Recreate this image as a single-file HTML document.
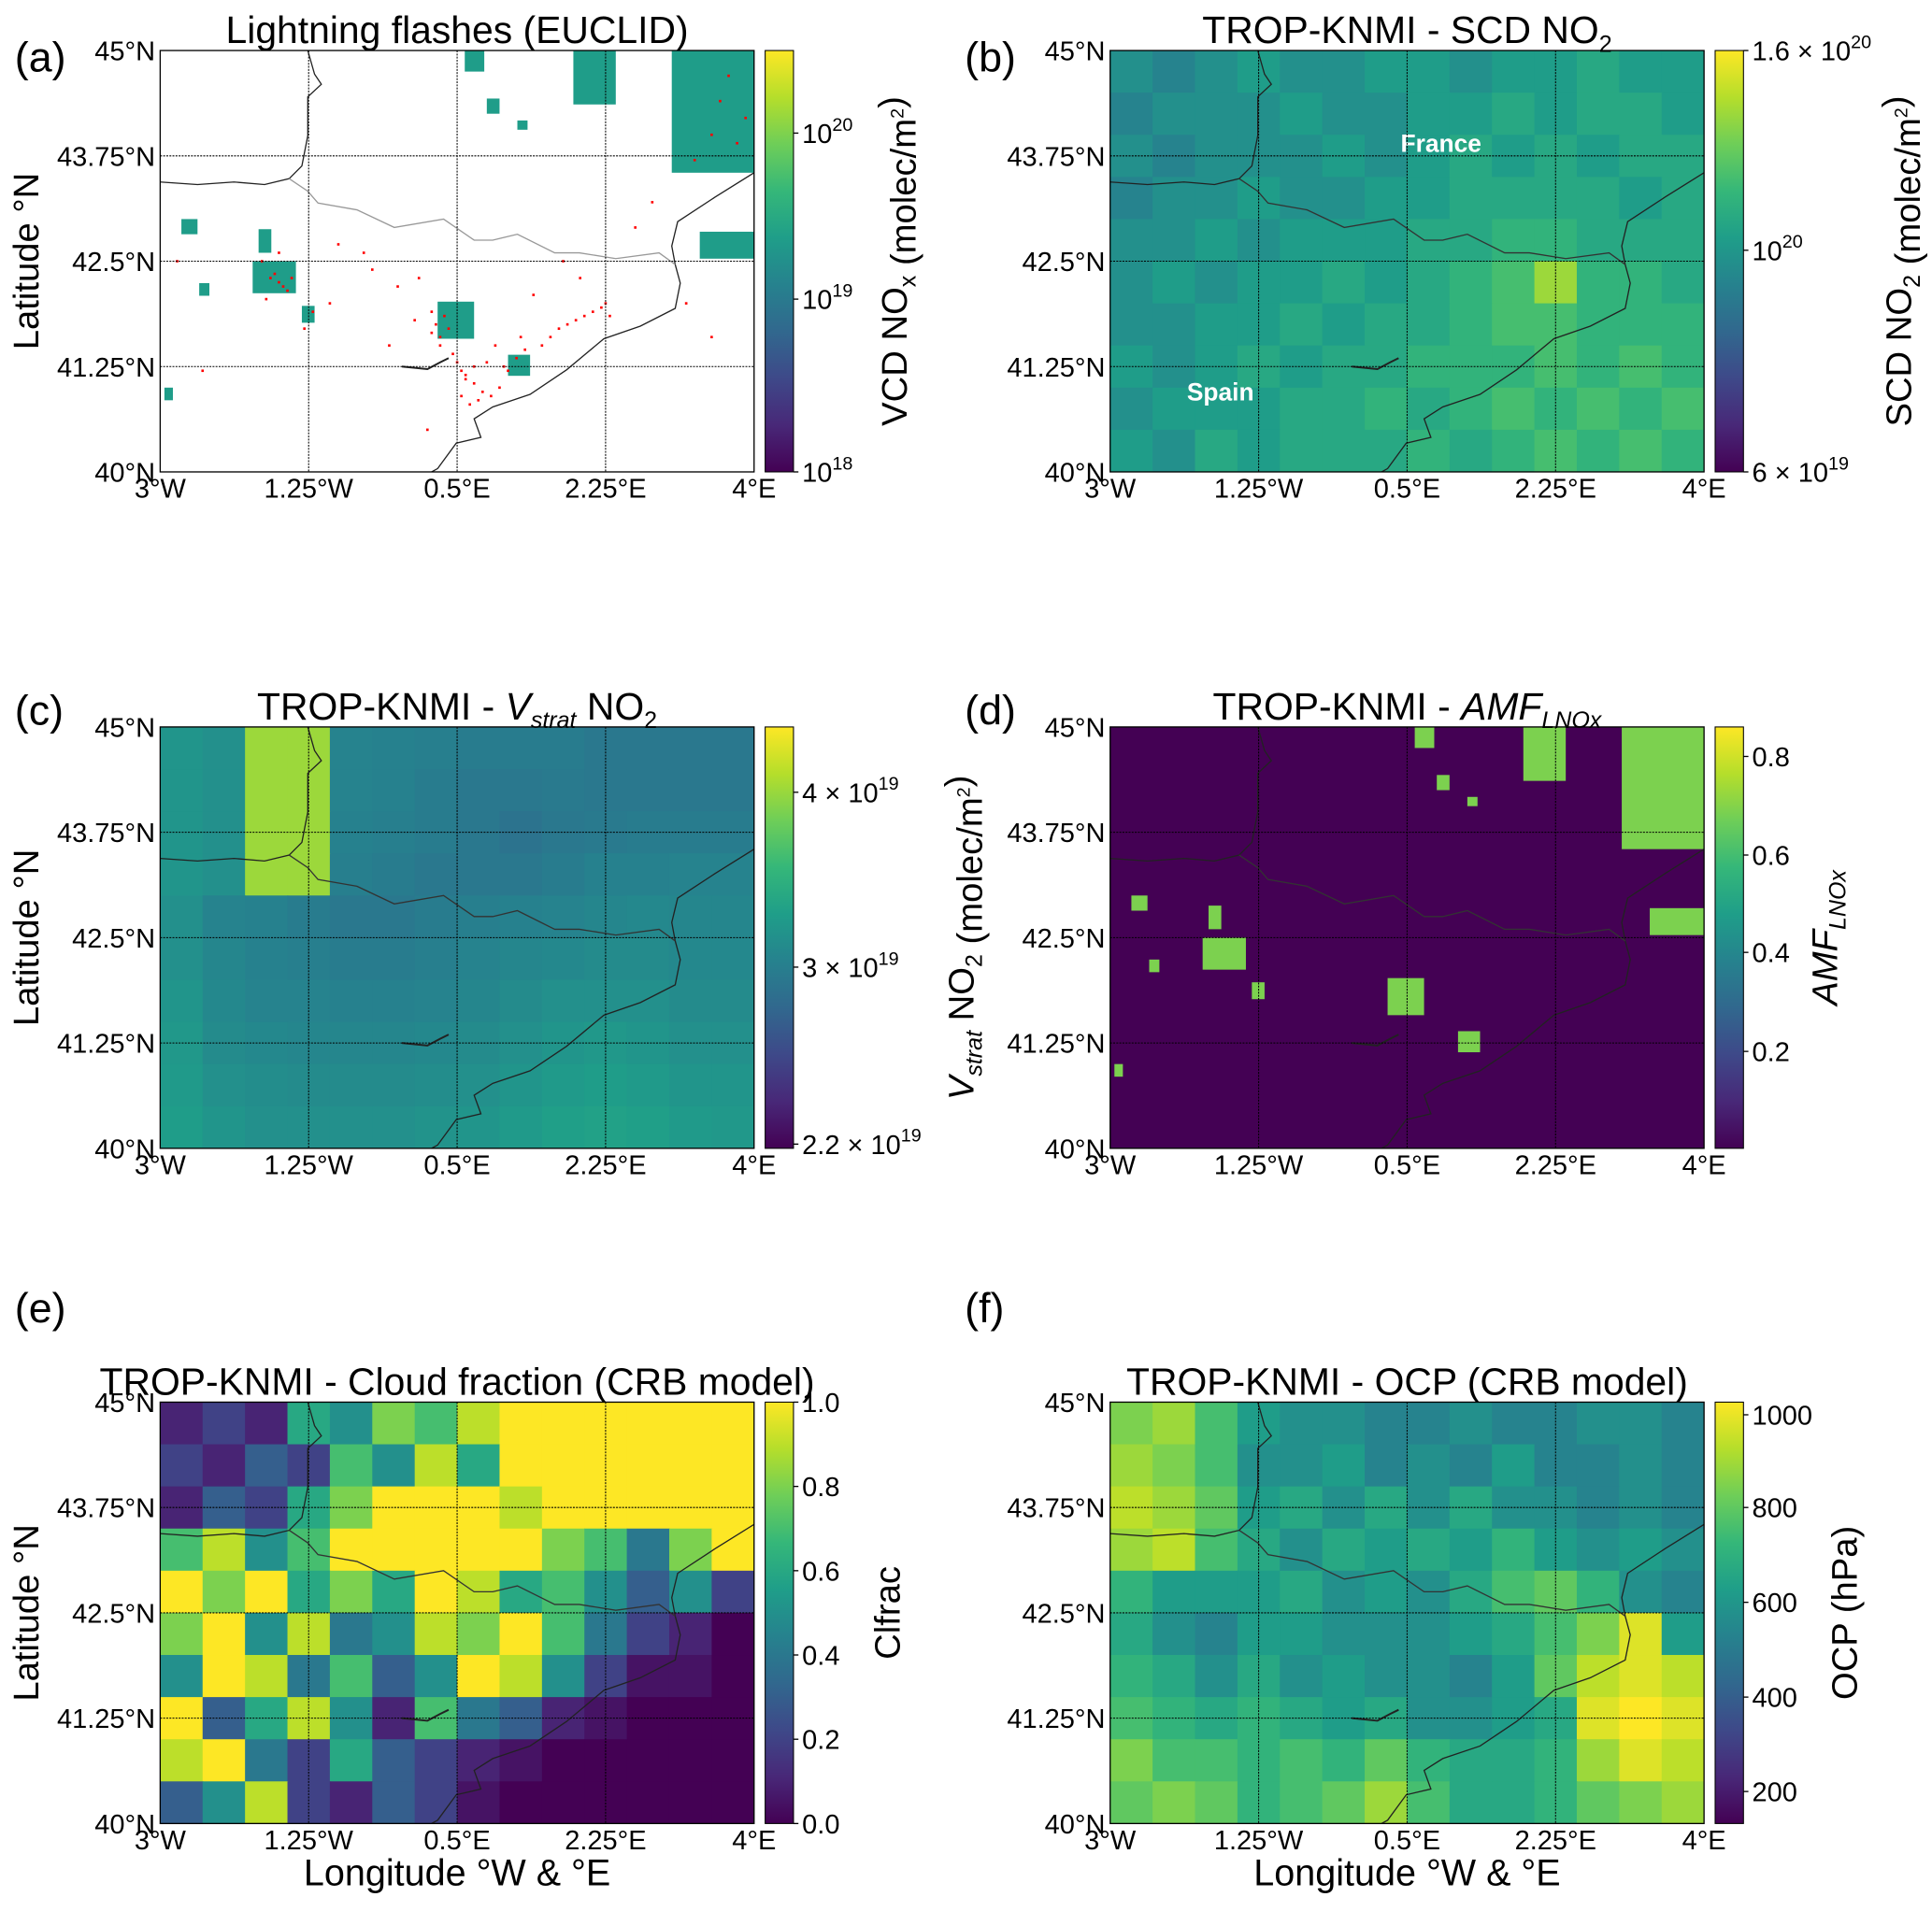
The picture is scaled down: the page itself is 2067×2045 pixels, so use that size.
<!DOCTYPE html>
<html><head><meta charset="utf-8"><title>Lightning NOx maps</title>
<style>html,body{margin:0;padding:0;background:#fff}svg{display:block;font-family:"Liberation Sans","DejaVu Sans",sans-serif}</style>
</head><body>
<svg id="fig" width="2067" height="2045" viewBox="0 0 1568 1551" preserveAspectRatio="none" xmlns="http://www.w3.org/2000/svg"></svg>
<script>
// ---------- data ----------
const lonTicks=[-3,-1.25,0.5,2.25,4];
const lonTickLabels=["3°W","1.25°W","0.5°E","2.25°E","4°E"];
const latTicks=[45,43.75,42.5,41.25,40];
const latTickLabels=["45°N","43.75°N","42.5°N","41.25°N","40°N"];
// lightning-area patches [lon0,lat0,lon1,lat1]
const patches=[[-2.75,42.82,-2.56,43.0],[-2.54,42.09,-2.42,42.24],[-1.91,42.12,-1.40,42.5],[-1.84,42.6,-1.69,42.88],[-1.33,41.77,-1.18,41.97],[0.27,41.58,0.70,42.02],[1.10,41.14,1.36,41.39],[1.87,44.36,2.37,45],[3.03,43.55,4.0,45],[3.36,42.53,4.0,42.85],[0.59,44.75,0.82,45],[0.85,44.25,1.0,44.43],[1.21,44.06,1.33,44.17],[-2.95,40.85,-2.85,41.0]];
const flashLon=[-1.7,-1.6,-1.55,-1.65,-1.5,-1.45,-1.75,-1.6,-1.8,-1.3,-1.2,-1.0,-0.9,-0.6,-0.5,-0.2,0.0,0.2,0.25,0.3,0.35,0.4,0.3,0.2,0.45,0.5,0.55,0.6,0.7,0.8,0.9,1.0,0.75,0.65,0.55,0.6,0.7,0.85,1.1,1.2,1.3,1.5,1.6,1.7,1.8,1.9,2.0,2.1,2.2,2.25,2.3,1.95,1.75,1.4,1.25,1.05,0.95,2.6,2.8,3.3,3.5,3.6,3.7,3.8,3.9,3.5,3.2,-2.5,-2.8,-0.3,0.15,0.05];
const flashLat=[42.3,42.25,42.2,42.35,42.15,42.3,42.05,42.6,42.5,41.7,41.9,42.0,42.7,42.6,42.4,42.2,41.8,41.9,41.75,41.6,41.85,41.7,41.5,41.65,41.4,41.3,41.2,41.1,41.05,40.95,40.9,41.0,40.85,40.8,40.9,41.15,41.25,41.3,41.2,41.35,41.45,41.5,41.6,41.7,41.75,41.8,41.85,41.9,41.95,42.0,41.85,42.3,42.5,42.1,41.6,41.25,41.5,42.9,43.2,43.7,44.0,44.4,44.7,43.9,44.2,41.6,42.0,41.2,42.5,41.5,40.5,42.3];
// gridded fields 14 cols (3W..4E) x 10 rows (45N..40N), normalized 0..1
const scdGrid=[
[.5,.45,.5,.55,.5,.5,.55,.55,.5,.55,.55,.6,.55,.55],
[.45,.5,.5,.5,.55,.5,.5,.55,.55,.6,.55,.6,.6,.55],
[.5,.45,.5,.5,.5,.55,.5,.55,.6,.55,.6,.55,.6,.6],
[.45,.5,.5,.55,.5,.5,.55,.55,.6,.6,.6,.6,.55,.6],
[.5,.5,.55,.5,.55,.55,.55,.6,.6,.65,.65,.6,.6,.6],
[.5,.55,.5,.55,.55,.6,.55,.6,.65,.7,.85,.65,.65,.6],
[.5,.5,.55,.55,.6,.55,.6,.6,.65,.7,.7,.65,.65,.65],
[.55,.5,.55,.6,.55,.6,.6,.65,.65,.65,.7,.65,.7,.65],
[.5,.55,.55,.55,.6,.6,.65,.6,.65,.7,.65,.7,.65,.7],
[.55,.5,.6,.55,.6,.6,.6,.65,.6,.65,.7,.65,.7,.65]];
const stratGrid=[
[.52,.5,.85,.85,.45,.44,.43,.42,.42,.42,.40,.40,.40,.40],
[.52,.5,.85,.85,.45,.44,.42,.40,.40,.41,.40,.40,.40,.40],
[.52,.5,.85,.85,.44,.43,.42,.40,.38,.40,.41,.42,.42,.42],
[.52,.5,.85,.85,.43,.42,.40,.40,.40,.42,.44,.44,.45,.45],
[.50,.45,.44,.42,.40,.40,.42,.43,.44,.45,.46,.47,.46,.46],
[.50,.46,.44,.43,.42,.42,.43,.45,.46,.47,.48,.48,.47,.47],
[.52,.47,.45,.45,.44,.44,.45,.46,.48,.50,.50,.50,.48,.48],
[.53,.48,.47,.46,.46,.46,.47,.48,.50,.52,.53,.52,.50,.50],
[.54,.50,.49,.48,.48,.48,.49,.50,.52,.54,.55,.54,.52,.52],
[.55,.52,.50,.50,.50,.50,.51,.52,.54,.56,.57,.56,.54,.53]];
const cloudGrid=[
[.1,.2,.1,.6,.5,.8,.7,.9,1,1,1,1,1,1],
[.2,.1,.3,.2,.7,.5,.9,.6,1,1,1,1,1,1],
[.1,.3,.2,.6,.8,1,1,1,.9,1,1,1,1,1],
[.7,.9,.5,.7,1,1,1,1,1,.8,.7,.4,.8,1],
[1,.8,1,.6,.8,.6,1,.9,.6,.7,.5,.3,.5,.2],
[.8,1,.5,.9,.4,.5,.9,.8,1,.7,.4,.2,.1,0],
[.5,1,.9,.4,.7,.3,.5,1,.9,.5,.2,.05,.05,0],
[1,.3,.6,.9,.5,.1,.7,.4,.3,.1,.05,0,0,0],
[.9,1,.4,.2,.6,.3,.2,.1,.05,0,0,0,0,0],
[.3,.5,.9,.2,.1,.3,.2,.05,0,0,0,0,0,0]];
const ocpGrid=[
[.8,.85,.7,.55,.5,.5,.45,.45,.5,.45,.45,.5,.5,.45],
[.85,.8,.7,.5,.5,.55,.45,.5,.45,.55,.45,.45,.5,.45],
[.9,.85,.75,.55,.6,.5,.6,.5,.6,.5,.5,.45,.5,.45],
[.85,.9,.7,.6,.5,.6,.55,.6,.55,.65,.55,.5,.55,.5],
[.65,.55,.55,.55,.6,.5,.55,.5,.6,.7,.75,.65,.5,.45],
[.6,.5,.45,.55,.55,.5,.5,.5,.55,.6,.7,.8,.95,.55],
[.65,.6,.5,.6,.5,.55,.5,.5,.45,.55,.75,.9,.95,.9],
[.7,.65,.6,.65,.6,.55,.6,.5,.5,.55,.6,.95,1,.95],
[.8,.7,.7,.65,.7,.65,.75,.65,.6,.6,.65,.85,.95,.9],
[.75,.8,.75,.65,.7,.75,.85,.7,.6,.6,.65,.75,.8,.85]];
// coastlines / borders [lon,lat]
const coastMed=[[4.0,43.55],[3.54,43.26],[3.10,42.97],[3.03,42.68],[3.07,42.46],[3.13,42.24],[3.07,41.94],[2.66,41.73],[2.23,41.58],[1.79,41.21],[1.36,40.92],[0.92,40.77],[0.70,40.63],[0.78,40.41],[0.49,40.34],[0.27,40.04],[0.2,40.0]];
const coastAtl=[[-1.26,45],[-1.18,44.72],[-1.1,44.6],[-1.26,44.45],[-1.26,43.99],[-1.33,43.63],[-1.48,43.48],[-1.77,43.41],[-2.13,43.44],[-2.56,43.41],[-3,43.44]];
const border=[[-1.48,43.48],[-1.26,43.33],[-1.14,43.19],[-0.68,43.11],[-0.24,42.9],[0.34,43.0],[0.70,42.75],[0.92,42.75],[1.21,42.82],[1.65,42.6],[1.94,42.6],[2.37,42.53],[2.88,42.6],[3.07,42.46]];
const ebro=[[-0.15,41.25],[0.15,41.22],[0.3,41.3],[0.4,41.35]];
// ---------- helpers ----------
const NS="http://www.w3.org/2000/svg";
const svg=document.getElementById('fig');
function el(tag,attrs,parent){const e=document.createElementNS(NS,tag);for(const k in attrs)e.setAttribute(k,attrs[k]);(parent||svg).appendChild(e);return e;}
const VIR=["#440154","#482878","#3e4989","#31688e","#26828e","#1f9e89","#35b779","#6ece58","#b5de2b","#fde725"];
function hex(c){return [parseInt(c.substr(1,2),16),parseInt(c.substr(3,2),16),parseInt(c.substr(5,2),16)];}
function viridis(t){t=Math.max(0,Math.min(1,t));const p=t*9,i=Math.min(8,Math.floor(p)),f=p-i;const a=hex(VIR[i]),b=hex(VIR[i+1]);return 'rgb('+a.map((v,k)=>Math.round(v+(b[k]-v)*f)).join(',')+')';}
const PW=482,PH=342;
const TF=22, TITLEF=31, LABF=29;
function mkX(x0){return lon=>x0+(lon+3)/7*PW;}
function mkY(y0){return lat=>y0+(45-lat)/5*PH;}
function poly(pts,X,Y,stroke,w,g,name){const e=el('polyline',{points:pts.map(p=>X(p[0]).toFixed(1)+','+Y(p[1]).toFixed(1)).join(' '),fill:'none',stroke:stroke,'stroke-width':w},g);

}
function drawPanel(o){
  const g=el('g',{});
  
  
  const X=mkX(o.x0),Y=mkY(o.y0);
  const cid='clip'+o.name;
  const cp=el('clipPath',{id:cid},g);el('rect',{x:o.x0,y:o.y0,width:PW,height:PH},cp);
  const plot=el('g',{'clip-path':'url(#'+cid+')'},g);
  el('rect',{x:o.x0,y:o.y0,width:PW,height:PH,fill:o.bg||'#fff'},plot);
  if(o.grid){const cw=PW/14,ch=PH/10;
    o.grid.forEach((row,r)=>row.forEach((v,c)=>{const e=el('rect',{x:(X(-3+c*0.5)).toFixed(2),y:(Y(45-r*0.5)).toFixed(2),width:cw+0.6,height:ch+0.6,fill:viridis(v)},plot);
      
      }));}
  if(o.patchVal!==undefined){patches.forEach(p=>{const e=el('rect',{x:X(p[0]),y:Y(p[3]),width:X(p[2])-X(p[0]),height:Y(p[1])-Y(p[3]),fill:viridis(o.patchVal)},plot);
      
      });}
  if(o.flashes){flashLon.forEach((lo,i)=>{const e=el('rect',{x:X(lo)-1,y:Y(flashLat[i])-1,width:2,height:2,fill:'#ff0000'},plot);
      
      });}
  if(o.labels){const t1=el('text',{x:X(0.9),y:Y(43.8),'font-size':20,'font-weight':'bold',fill:'#fff','text-anchor':'middle'},plot);t1.textContent='France';
    
    const t2=el('text',{x:X(-1.7),y:Y(40.85),'font-size':20,'font-weight':'bold',fill:'#fff','text-anchor':'middle'},plot);t2.textContent='Spain';
    }
  poly(coastMed,X,Y,'#222',1,plot,'coastline-mediterranean');
  poly(coastAtl,X,Y,'#222',1,plot,'coastline-atlantic');
  poly(border,X,Y,o.flashes?'#999':'#333',1,plot,'border-pyrenees');
  poly(ebro,X,Y,'#222',1.5,plot,'ebro-delta');
  lonTicks.slice(1,4).forEach(v=>{const e=el('line',{x1:X(v),x2:X(v),y1:o.y0,y2:o.y0+PH,stroke:'#000','stroke-width':0.8,'stroke-dasharray':'1.5,1'},plot);
    });
  latTicks.slice(1,4).forEach(v=>{const e=el('line',{x1:o.x0,x2:o.x0+PW,y1:Y(v),y2:Y(v),stroke:'#000','stroke-width':0.8,'stroke-dasharray':'1.5,1'},plot);
    });
  el('rect',{x:o.x0,y:o.y0,width:PW,height:PH,fill:'none',stroke:'#000','stroke-width':1},g);
  lonTicks.forEach((v,i)=>{const t=el('text',{x:X(v),y:o.y0+PH+21,'font-size':TF,'text-anchor':'middle'},g);t.textContent=lonTickLabels[i];
    });
  latTicks.forEach((v,i)=>{const t=el('text',{x:o.x0-4,y:Y(v)+8,'font-size':TF,'text-anchor':'end'},g);t.textContent=latTickLabels[i];
    });
  const tt=el('text',{x:o.x0+PW/2,y:o.y0-6,'font-size':TITLEF,'text-anchor':'middle'},g);tt.innerHTML=o.title;
  
  const lt=el('text',{x:o.x0-118,y:o.letterY,'font-size':34},g);lt.textContent=o.letter;
  
  if(o.ylabel){const yl=el('text',{x:0,y:0,'font-size':LABF,'text-anchor':'middle',transform:'translate('+(o.x0-99)+','+(o.y0+PH/2)+') rotate(-90)'},g);yl.textContent='Latitude °N';
    }
  if(o.xlabel){const xl=el('text',{x:o.x0+PW/2,y:o.y0+PH+50,'font-size':LABF+1,'text-anchor':'middle'},g);xl.textContent='Longitude °W & °E';
    }
  // colorbar
  const cx=o.x0+PW+9,cw=23;const gid='grad'+o.name;
  const defs=el('defs',{},g);const lg=el('linearGradient',{id:gid,x1:0,y1:1,x2:0,y2:0},defs);
  VIR.forEach((c,i)=>el('stop',{offset:(i/9),'stop-color':c},lg));
  const cb=el('rect',{x:cx,y:o.y0,width:cw,height:PH,fill:'url(#'+gid+')',stroke:'#000','stroke-width':0.8},g);
  
  o.cbTicks.forEach((v,i)=>{const yy=o.y0+PH-(v*PH);el('line',{x1:cx+cw,x2:cx+cw+4,y1:yy,y2:yy,stroke:'#000'},g);
    const t=el('text',{x:cx+cw+7,y:yy+8,'font-size':TF},g);t.innerHTML=o.cbLabels[i];
    });
  const cl=el('text',{x:0,y:0,'font-size':LABF,'text-anchor':'middle',transform:'translate('+(cx+cw+o.cbLabX)+','+(o.y0+PH/2)+') rotate(-90)'},g);cl.innerHTML=o.cbTitle;
  
}
const sup=s=>'<tspan font-size="15" dy="-10">'+s+'</tspan><tspan dy="10"></tspan>';
const sub=s=>'<tspan font-size="19" dy="7">'+s+'</tspan><tspan dy="-7"></tspan>';
drawPanel({name:'panel-a-lightning',x0:130,y0:41,letter:'(a)',letterY:58,title:'Lightning flashes (EUCLID)',bg:'#fff',patchVal:0.55,flashes:true,ylabel:true,
  cbTicks:[0.804,0.41,0],cbLabels:['10'+sup('20'),'10'+sup('19'),'10'+sup('18')],cbTitle:'VCD NO'+sub('x')+' (molec/m'+sup('2')+')',cbLabX:92});
drawPanel({name:'panel-b-scd',x0:901,y0:41,letter:'(b)',letterY:58,title:'TROP-KNMI - SCD NO'+sub('2'),grid:scdGrid,labels:true,
  cbTicks:[1,0.526,0],cbLabels:['1.6 × 10'+sup('20'),'10'+sup('20'),'6 × 10'+sup('19')],cbTitle:'SCD NO'+sub('2')+' (molec/m'+sup('2')+')',cbLabX:136});
drawPanel({name:'panel-c-vstrat',x0:130,y0:590,letter:'(c)',letterY:588,title:'TROP-KNMI - <tspan font-style="italic">V</tspan>'+'<tspan font-size="19" dy="7" font-style="italic">strat</tspan><tspan dy="-7"> NO</tspan>'+sub('2'),grid:stratGrid,ylabel:true,
  cbTicks:[0.845,0.43,0.01],cbLabels:['4 × 10'+sup('19'),'3 × 10'+sup('19'),'2.2 × 10'+sup('19')],cbTitle:'<tspan font-style="italic">V</tspan><tspan font-size="19" dy="7" font-style="italic">strat</tspan><tspan dy="-7"> NO</tspan>'+sub('2')+' (molec/m'+sup('2')+')',cbLabX:146});
drawPanel({name:'panel-d-amf',x0:901,y0:590,letter:'(d)',letterY:588,title:'TROP-KNMI - <tspan font-style="italic">AMF</tspan><tspan font-size="19" dy="7" font-style="italic">LNOx</tspan><tspan dy="-7"></tspan>',bg:viridis(0),patchVal:0.8,
  cbTicks:[0.93,0.696,0.465,0.23],cbLabels:['0.8','0.6','0.4','0.2'],cbTitle:'<tspan font-style="italic">AMF</tspan><tspan font-size="19" dy="7" font-style="italic">LNOx</tspan><tspan dy="-7"></tspan>',cbLabX:76});
drawPanel({name:'panel-e-cloud',x0:130,y0:1138,letter:'(e)',letterY:1073,title:'TROP-KNMI - Cloud fraction (CRB model)',grid:cloudGrid,ylabel:true,xlabel:true,
  cbTicks:[1,0.8,0.6,0.4,0.2,0],cbLabels:['1.0','0.8','0.6','0.4','0.2','0.0'],cbTitle:'Clfrac',cbLabX:86});
drawPanel({name:'panel-f-ocp',x0:901,y0:1138,letter:'(f)',letterY:1073,title:'TROP-KNMI - OCP (CRB model)',grid:ocpGrid,xlabel:true,
  cbTicks:[0.97,0.75,0.525,0.3,0.076],cbLabels:['1000','800','600','400','200'],cbTitle:'OCP (hPa)',cbLabX:92});
</script>
</body></html>
